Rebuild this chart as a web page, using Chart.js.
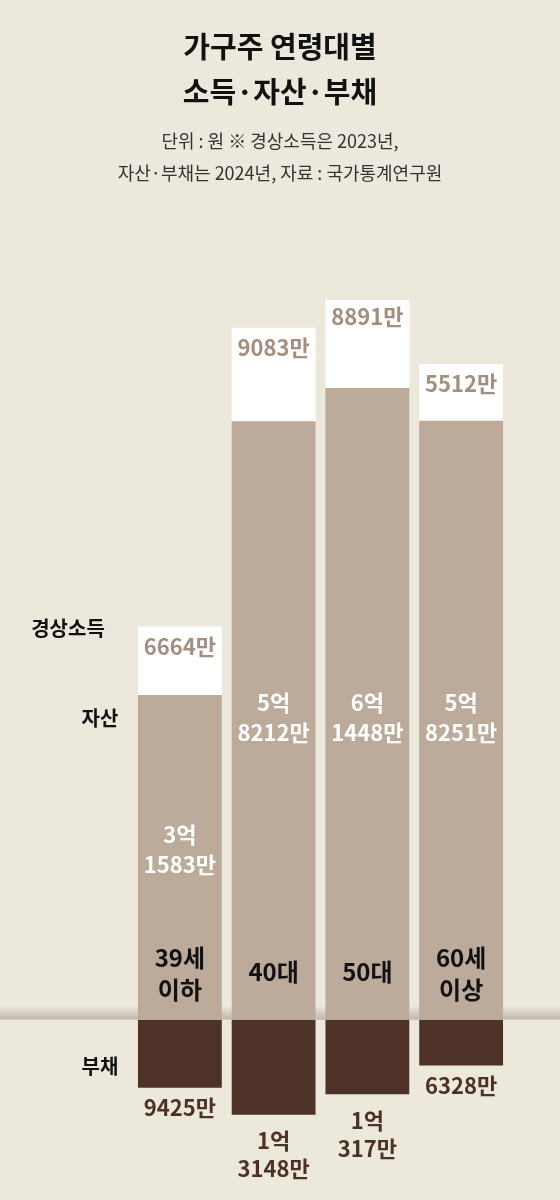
<!DOCTYPE html>
<html><head><meta charset="utf-8">
<script src="https://cdn.jsdelivr.net/npm/chart.js@4"></script>
<style>body{margin:0;background:#ece8dc}#wrap{width:560px;height:1200px;position:relative}</style>
</head><body><div id="wrap"><canvas id="c" width="560" height="1200"></canvas></div>
<script>
const categories = ['39세\n이하', '40대', '50대', '60세\n이상'];
const assets = [3.1583, 5.8212, 6.1448, 5.8251];          // 억 원
const income = [0.6664, 0.9083, 0.8891, 0.5512];          // 억 원
const debt = [-0.9425, -1.3148, -1.0317, -0.6328];        // 억 원
const assetLabels = ['3억\n1583만', '5억\n8212만', '6억\n1448만', '5억\n8251만'];
const incomeLabels = ['6664만', '9083만', '8891만', '5512만'];
const debtLabels = ['9425만', '1억\n3148만', '1억\n317만', '6328만'];
const F = '"Noto Sans CJK KR", sans-serif';

function lines(ctx, txt, x, y, lh) {
  txt.split('\n').forEach((t, i) => ctx.fillText(t, x, y + i * lh));
}

const labelPlugin = {
  id: 'labels',
  beforeDatasetsDraw(chart) {
    const ctx = chart.ctx, z = chart.scales.y.getPixelForValue(0);
    const g = ctx.createLinearGradient(0, z - 14, 0, z);
    g.addColorStop(0, 'rgba(90,70,55,0)');
    g.addColorStop(1, 'rgba(90,70,55,0.3)');
    ctx.fillStyle = g;
    ctx.fillRect(0, z - 14, 560, 14);
  },
  afterDatasetsDraw(chart) {
    const ctx = chart.ctx;
    ctx.save();
    ctx.textAlign = 'center'; ctx.textBaseline = 'middle';
    ctx.fillStyle = '#111';
    ctx.font = `bold 29px ${F}`;
    ctx.fillText('가구주 연령대별', 280, 47);
    ctx.fillText('소득·자산·부채', 280, 92);
    ctx.fillStyle = '#333';
    ctx.font = `18px ${F}`;
    ctx.fillText('단위 : 원 ※ 경상소득은 2023년,', 280, 141);
    ctx.fillText('자산·부채는 2024년, 자료 : 국가통계연구원', 280, 173);
    ctx.fillStyle = '#111';
    ctx.font = `bold 20px ${F}`;
    ctx.fillText('경상소득', 68, 628);
    ctx.fillText('자산', 100, 718);
    ctx.fillText('부채', 100, 1066);

    const ma = chart.getDatasetMeta(0), mi = chart.getDatasetMeta(1), md = chart.getDatasetMeta(2);
    const z = chart.scales.y.getPixelForValue(0);
    categories.forEach((c, i) => {
      const x = ma.data[i].x;
      ctx.fillStyle = '#111';
      ctx.font = `bold 24px ${F}`;
      const two = c.includes('\n');
      lines(ctx, c, x, two ? z - 62 : z - 48, 32);
      ctx.fillStyle = '#fff';
      ctx.font = `bold 22px ${F}`;
      const ay = i === 0 ? 835 : 703;
      lines(ctx, assetLabels[i], x, ay, 30);
      ctx.fillStyle = '#a48e7e';
      lines(ctx, incomeLabels[i], x, mi.data[i].y + 20, 30);
      ctx.fillStyle = '#4e3126';
      const two2 = debtLabels[i].includes('\n');
      lines(ctx, debtLabels[i], x, md.data[i].y + (two2 ? 26 : 20), 28);
    });
    ctx.restore();
  }
};

new Chart(document.getElementById('c'), {
  type: 'bar',
  data: {
    labels: categories,
    datasets: [
      { label: '자산', data: assets, backgroundColor: '#bcaa9b', stack: 's', yAxisID: 'y' },
      { label: '경상소득', data: income, backgroundColor: '#ffffff', stack: 's', yAxisID: 'y' },
      { label: '부채', data: debt, backgroundColor: '#4e3228', stack: 's', yAxisID: 'y2' }
    ]
  },
  options: {
    responsive: false,
    animation: false,
    layout: { padding: { left: 133, right: 52, top: 300, bottom: 20 } },
    barPercentage: 0.894,
    categoryPercentage: 1,
    scales: {
      x: { display: false, stacked: true },
      y: { display: false, stacked: true, min: -1.56, max: 7.0 },
      y2: { display: false, stacked: true, min: -2.22, max: 9.98 }
    },
    plugins: { legend: { display: false }, tooltip: { enabled: false } }
  },
  plugins: [labelPlugin]
});
</script></body></html>
